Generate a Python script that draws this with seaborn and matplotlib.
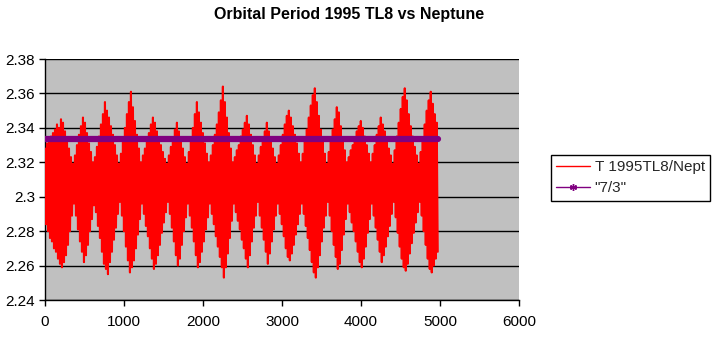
import numpy as np
import pandas as pd
import matplotlib
matplotlib.use("Agg")
import matplotlib.pyplot as plt
import seaborn as sns
from matplotlib.lines import Line2D

# Orbital period ratio T(1995 TL8) / T(Neptune): alternating crest and trough values
t_high = [
    2.328, 2.331, 2.333, 2.335, 2.337, 2.339, 2.342, 2.340, 2.345, 2.343, 2.338, 2.334, 2.328, 2.323, 2.319,
    2.324, 2.330, 2.336, 2.341, 2.346, 2.343, 2.337, 2.331, 2.326, 2.320,
    2.323, 2.329, 2.335, 2.342, 2.348, 2.355, 2.350, 2.346, 2.341, 2.336, 2.330, 2.324, 2.319,
    2.325, 2.332, 2.340, 2.348, 2.355, 2.361, 2.352, 2.344, 2.336, 2.328, 2.320,
    2.324, 2.328, 2.333, 2.337, 2.342, 2.346, 2.343, 2.338, 2.334, 2.330, 2.326, 2.322, 2.319,
    2.324, 2.329, 2.334, 2.339, 2.343, 2.338, 2.333, 2.328, 2.323, 2.319,
    2.326, 2.333, 2.340, 2.348, 2.355, 2.349, 2.343, 2.337, 2.331, 2.325, 2.320,
    2.324, 2.330, 2.336, 2.342, 2.349, 2.356, 2.364, 2.355, 2.346, 2.337, 2.328, 2.320,
    2.323, 2.327, 2.330, 2.335, 2.339, 2.343, 2.347, 2.342, 2.336, 2.330, 2.324, 2.319,
    2.324, 2.329, 2.334, 2.338, 2.343, 2.338, 2.333, 2.328, 2.323, 2.319,
    2.324, 2.330, 2.336, 2.342, 2.347, 2.350, 2.346, 2.341, 2.336, 2.331, 2.325, 2.320,
    2.325, 2.332, 2.339, 2.346, 2.353, 2.359, 2.363, 2.355, 2.347, 2.339, 2.332, 2.325, 2.319,
    2.326, 2.332, 2.339, 2.345, 2.352, 2.349, 2.341, 2.334, 2.327, 2.320,
    2.323, 2.327, 2.330, 2.334, 2.338, 2.341, 2.344, 2.340, 2.335, 2.330, 2.325, 2.320,
    2.325, 2.330, 2.336, 2.341, 2.346, 2.342, 2.338, 2.333, 2.328, 2.324, 2.319,
    2.327, 2.335, 2.343, 2.351, 2.358, 2.363, 2.356, 2.348, 2.341, 2.335, 2.329, 2.324, 2.319,
    2.326, 2.334, 2.342, 2.350, 2.356, 2.361, 2.354, 2.348, 2.343,
]
t_low = [
    2.284, 2.280, 2.276, 2.274, 2.270, 2.268, 2.264, 2.261, 2.259, 2.262, 2.266, 2.272, 2.280, 2.289, 2.296,
    2.289, 2.281, 2.274, 2.268, 2.262, 2.266, 2.272, 2.280, 2.287, 2.295,
    2.291, 2.283, 2.276, 2.268, 2.261, 2.258, 2.255, 2.262, 2.268, 2.275, 2.282, 2.290, 2.297,
    2.289, 2.280, 2.271, 2.263, 2.256, 2.259, 2.263, 2.270, 2.278, 2.287, 2.296,
    2.290, 2.283, 2.277, 2.270, 2.264, 2.258, 2.261, 2.266, 2.272, 2.279, 2.285, 2.291, 2.297,
    2.290, 2.282, 2.274, 2.266, 2.260, 2.264, 2.272, 2.280, 2.288, 2.296,
    2.289, 2.282, 2.274, 2.266, 2.259, 2.262, 2.268, 2.274, 2.281, 2.288, 2.296,
    2.290, 2.284, 2.277, 2.271, 2.265, 2.259, 2.253, 2.259, 2.267, 2.276, 2.286, 2.296,
    2.291, 2.286, 2.281, 2.275, 2.270, 2.264, 2.259, 2.266, 2.274, 2.282, 2.289, 2.297,
    2.289, 2.282, 2.275, 2.268, 2.261, 2.267, 2.274, 2.281, 2.289, 2.296,
    2.290, 2.284, 2.277, 2.270, 2.265, 2.263, 2.267, 2.272, 2.278, 2.284, 2.290, 2.296,
    2.290, 2.283, 2.276, 2.269, 2.262, 2.256, 2.253, 2.259, 2.266, 2.274, 2.282, 2.289, 2.297,
    2.289, 2.280, 2.272, 2.265, 2.258, 2.261, 2.269, 2.278, 2.287, 2.296,
    2.291, 2.285, 2.280, 2.274, 2.268, 2.262, 2.259, 2.264, 2.271, 2.279, 2.287, 2.296,
    2.289, 2.282, 2.275, 2.268, 2.262, 2.266, 2.271, 2.277, 2.283, 2.290, 2.297,
    2.288, 2.279, 2.271, 2.264, 2.259, 2.257, 2.261, 2.267, 2.273, 2.279, 2.285, 2.291, 2.297,
    2.289, 2.280, 2.272, 2.264, 2.258, 2.256, 2.260, 2.264, 2.268,
]
SAMPLE_STEP = 25.3  # time between successive crests

# 7/3 resonance reference
res_time = [0, 4980]
res_value = [7 / 3, 7 / 3]

y_ticks = [2.24, 2.26, 2.28, 2.30, 2.32, 2.34, 2.36, 2.38]
y_tick_labels = ["2.24", "2.26", "2.28", "2.3", "2.32", "2.34", "2.36", "2.38"]
x_ticks = [0, 1000, 2000, 3000, 4000, 5000, 6000]
x_tick_labels = ["0", "1000", "2000", "3000", "4000", "5000", "6000"]

title = "Orbital Period 1995 TL8 vs Neptune"
series_labels = ["T 1995TL8/Nept", '"7/3"']

# interleave crests and troughs into one time series
n = len(t_high)
t_crest = np.arange(n) * SAMPLE_STEP
t_trough = t_crest + SAMPLE_STEP / 2
df = pd.DataFrame({
    "time": np.column_stack([t_crest, t_trough]).ravel(),
    "ratio": np.column_stack([t_high, t_low]).ravel(),
})

sns.set_theme(style="white")
plt.rcParams["font.family"] = ["Liberation Sans", "DejaVu Sans"]

W, H = 715, 341
fig = plt.figure(figsize=(W / 100, H / 100), dpi=100)
fig.patch.set_facecolor("white")
left, right, top, bottom = 45, 519, 59, 300
ax = fig.add_axes([left / W, 1 - bottom / H, (right - left) / W, (bottom - top) / H])
ax.set_facecolor("#C0C0C0")

sns.lineplot(data=df, x="time", y="ratio", estimator=None, sort=False,
             color="#FF0000", lw=1.5, ax=ax, zorder=3)
sns.lineplot(x=res_time, y=res_value, estimator=None, sort=False,
             color="#800080", lw=4.5, ax=ax, zorder=4)

ax.set_xlim(0, 6000)
ax.set_ylim(2.24, 2.38)
ax.set_xticks(x_ticks)
ax.set_xticklabels(x_tick_labels)
ax.set_yticks(y_ticks)
ax.set_yticklabels(y_tick_labels)
ax.set_xlabel("")
ax.set_ylabel("")

ax.yaxis.grid(True, color="black", lw=1)
ax.xaxis.grid(False)
ax.set_axisbelow(True)

for s in ["top", "right"]:
    ax.spines[s].set_visible(False)
for s in ["left", "bottom"]:
    ax.spines[s].set_color("black")
    ax.spines[s].set_linewidth(1)

ax.tick_params(axis="both", direction="out", length=4, width=1, color="black",
               labelsize=11, labelcolor="black")
ax.tick_params(axis="y", pad=3)
ax.tick_params(axis="x", pad=7)
ax.tick_params(left=True, bottom=True)

fig.text(349 / W, 1 - 15 / H, title, ha="center", va="center",
         fontsize=11.5, fontweight="bold", color="black")

handles = [
    Line2D([], [], color="#FF0000", lw=1),
    Line2D([], [], color="#800080", lw=1, marker=(6, 2, 0), markersize=5),
]
leg = fig.legend(handles, series_labels, loc="upper left",
                 bbox_to_anchor=(551 / W, 1 - 155 / H), frameon=True, fancybox=False,
                 edgecolor="black", facecolor="white", framealpha=1, fontsize=11,
                 handlelength=2.2, handletextpad=0.3, borderpad=0.35, labelspacing=0.45,
                 borderaxespad=0)
leg.get_frame().set_linewidth(1)

fig.savefig("out.png", dpi=100, facecolor="white")
